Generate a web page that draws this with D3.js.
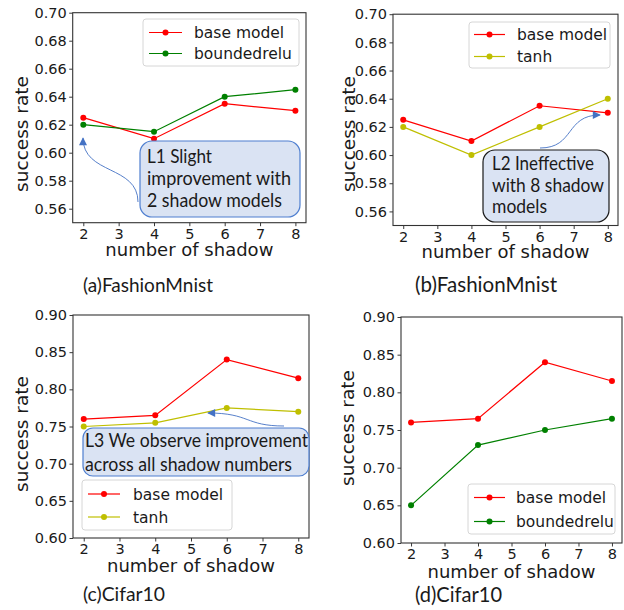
<!DOCTYPE html>
<html><head><meta charset="utf-8">
<script src="https://cdn.jsdelivr.net/npm/d3@7"></script>
<style>
html,body{margin:0;padding:0;background:#fff;}
svg{display:block;}
</style></head>
<body>
<svg id="chart" width="624" height="610"></svg>
<script>
// ---- data ----
const shadowCounts = [2, 4, 6, 8];
const xTicks = [2, 3, 4, 5, 6, 7, 8];
const yTicksFashion = [0.56, 0.58, 0.60, 0.62, 0.64, 0.66, 0.68, 0.70];
const yTicksCifar = [0.60, 0.65, 0.70, 0.75, 0.80, 0.85, 0.90];

const fashionBase = [0.625, 0.61, 0.635, 0.63];
const fashionBoundedRelu = [0.62, 0.615, 0.64, 0.645];
const fashionTanh = [0.62, 0.60, 0.62, 0.64];
const cifarBase = [0.76, 0.765, 0.84, 0.815];
const cifarTanh = [0.75, 0.755, 0.775, 0.77];
const cifarBoundedRelu = [0.65, 0.73, 0.75, 0.765];

const seriesNames = ["base model", "boundedrelu", "tanh"];
const captions = ["(a)FashionMnist", "(b)FashionMnist", "(c)Cifar10", "(d)Cifar10"];
const notes = [
  ["L1 Slight", "improvement with", "2 shadow models"],
  ["L2 Ineffective", "with 8 shadow", "models"],
  ["L3 We observe improvement", "across all shadow numbers"],
];
const xLabel = "number of shadow";
const yLabel = "success rate";

// ---- styles ----
const colors = { "base model": "#ff0000", "boundedrelu": "#008000", "tanh": "#bfbf00" };
const tickFont = "'DejaVu Sans', sans-serif";
const noteFont = "Lato, 'Open Sans', sans-serif";

const svg = d3.select("#chart");

const panels = [
  { rect: [72.7, 12.7, 306, 222.7], ydom: [0.55, 0.70], yticks: yTicksFashion, fmt: ".2f",
    series: [["base model", fashionBase], ["boundedrelu", fashionBoundedRelu]],
    legend: { x: 143, y: 19, w: 156, h: 47, row: 21, lx: 6, lw: 33, tx: 51 },
    ylab: { x: 28, y: 134 }, xlabY: 256, cap: { x: 83, y: 292, size: 20, w: 130, text: captions[0] },
    note: { box: [140, 141, 160, 76], r: 12, stroke: "#4f7fd0", tx: 147, ty: 163, lh: 22, size: 20, lines: notes[0],
            widths: [65, 144, 135],
            arrow: [[138, 202], [138, 165], [83, 175], [83, 138]] } },
  { rect: [393, 14.2, 618, 225.5], ydom: [0.55, 0.70], yticks: yTicksFashion, fmt: ".2f",
    series: [["base model", fashionBase], ["tanh", fashionTanh]],
    legend: { x: 469, y: 22, w: 141, h: 46, row: 22, lx: 5, lw: 31, tx: 48 },
    ylab: { x: 355, y: 134 }, xlabY: 258, cap: { x: 415, y: 292, size: 21, w: 142, text: captions[1] },
    note: { box: [483, 150, 126, 72], r: 12, stroke: "#1a1a1a", tx: 492, ty: 170, lh: 21.5, size: 20, lines: notes[1],
            widths: [102, 112, 55],
            arrow: [[540, 148], [575, 148], [565, 115], [600, 115]] } },
  { rect: [73, 315, 309, 538], ydom: [0.60, 0.90], yticks: yTicksCifar, fmt: ".2f",
    series: [["base model", cifarBase], ["tanh", cifarTanh]],
    legend: { x: 82, y: 480, w: 150, h: 50, row: 23, lx: 6, lw: 32, tx: 51 },
    ylab: { x: 28, y: 434 }, xlabY: 572, cap: { x: 83, y: 601, size: 20, w: 82, text: captions[2] },
    note: { box: [83, 428, 226, 48], r: 10, stroke: "#4f7fd0", tx: 85, ty: 447, lh: 24, size: 19.5, lines: notes[2],
            widths: [223, 207],
            arrow: [[284, 426], [245, 426], [250, 413], [208, 413]] } },
  { rect: [401, 317, 622, 543], ydom: [0.60, 0.90], yticks: yTicksCifar, fmt: ".2f",
    series: [["base model", cifarBase], ["boundedrelu", cifarBoundedRelu]],
    legend: { x: 468, y: 484, w: 147, h: 50, row: 24, lx: 6, lw: 31, tx: 48 },
    ylab: { x: 354, y: 428 }, xlabY: 578, cap: { x: 415, y: 602, size: 20.5, w: 87, text: captions[3] },
    note: null },
];

// arrow marker
const defs = svg.append("defs");
defs.append("marker").attr("id", "ah").attr("viewBox", "0 0 10 10")
  .attr("refX", 9).attr("refY", 5).attr("markerWidth", 9).attr("markerHeight", 8)
  .attr("markerUnits", "userSpaceOnUse").attr("orient", "auto")
  .append("path").attr("d", "M0,0 L10,5 L0,10 z").attr("fill", "#4472c4");

panels.forEach(p => {
  const [L, T, R, B] = p.rect;
  const x = d3.scaleLinear().domain([1.7, 8.3]).range([L, R]);
  const y = d3.scaleLinear().domain(p.ydom).range([B, T]);
  const g = svg.append("g");

  // axes
  const xa = g.append("g").attr("transform", `translate(0,${B})`)
    .call(d3.axisBottom(x).tickValues(xTicks).tickFormat(d3.format("d")).tickSize(3.5).tickPadding(2.5).tickSizeOuter(0));
  const ya = g.append("g").attr("transform", `translate(${L},0)`)
    .call(d3.axisLeft(y).tickValues(p.yticks).tickFormat(d3.format(p.fmt)).tickSize(3.5).tickPadding(2.5).tickSizeOuter(0));
  [xa, ya].forEach(a => {
    a.select(".domain").remove();
    a.selectAll("line").attr("stroke", "#222").attr("stroke-width", 0.9);
    a.selectAll("text").attr("font-family", tickFont).attr("font-size", 14.5).attr("fill", "#1a1a1a");
  });

  // lines
  p.series.forEach(([name, vals]) => {
    const pts = shadowCounts.map((s, i) => [s, vals[i]]);
    g.append("path").datum(pts)
      .attr("d", d3.line().x(d => x(d[0])).y(d => y(d[1])))
      .attr("fill", "none").attr("stroke", colors[name]).attr("stroke-width", 1.2);
    g.selectAll(null).data(pts).enter().append("circle")
      .attr("cx", d => x(d[0])).attr("cy", d => y(d[1])).attr("r", 3)
      .attr("fill", colors[name]);
  });

  // frame
  g.append("rect").attr("x", L).attr("y", T).attr("width", R - L).attr("height", B - T)
    .attr("fill", "none").attr("stroke", "#333").attr("stroke-width", 1.1);

  // legend
  const lg = p.legend;
  const leg = g.append("g").attr("transform", `translate(${lg.x},${lg.y})`);
  leg.append("rect").attr("width", lg.w).attr("height", lg.h).attr("rx", 3)
    .attr("fill", "#fff").attr("fill-opacity", 0.85).attr("stroke", "#d6d6d6").attr("stroke-width", 1);
  p.series.forEach(([name], i) => {
    const ry = lg.h / 2 - lg.row / 2 + i * lg.row + 0.5;
    leg.append("line").attr("x1", lg.lx).attr("x2", lg.lx + lg.lw).attr("y1", ry).attr("y2", ry)
      .attr("stroke", colors[name]).attr("stroke-width", 1.2);
    leg.append("circle").attr("cx", lg.lx + lg.lw / 2).attr("cy", ry).attr("r", 3).attr("fill", colors[name]);
    leg.append("text").attr("x", lg.tx).attr("y", ry).attr("dy", "0.36em")
      .attr("font-family", tickFont).attr("font-size", 15.5).attr("fill", "#1a1a1a").text(name);
  });

  // axis labels
  g.append("text").attr("x", (L + R) / 2).attr("y", p.xlabY).attr("text-anchor", "middle")
    .attr("font-family", tickFont).attr("font-size", 18).attr("fill", "#1a1a1a").text(xLabel);
  g.append("text").attr("transform", `translate(${p.ylab.x},${p.ylab.y}) rotate(-90)`)
    .attr("text-anchor", "middle").attr("font-family", tickFont).attr("font-size", 18.5)
    .attr("fill", "#1a1a1a").text(yLabel);

  // caption
  g.append("text").attr("x", p.cap.x).attr("y", p.cap.y).attr("font-family", noteFont)
    .attr("font-size", p.cap.size).attr("fill", "#1a1a1a")
    .attr("textLength", p.cap.w).attr("lengthAdjust", "spacingAndGlyphs").text(p.cap.text);

  // annotation
  if (p.note) {
    const n = p.note;
    const a = n.arrow;
    g.append("path").attr("d", `M${a[0]} C${a[1]} ${a[2]} ${a[3]}`)
      .attr("fill", "none").attr("stroke", "#4472c4").attr("stroke-width", 0.9)
      .attr("marker-end", "url(#ah)");
    g.append("rect").attr("x", n.box[0]).attr("y", n.box[1]).attr("width", n.box[2]).attr("height", n.box[3])
      .attr("rx", n.r).attr("fill", "#dae3f3").attr("stroke", n.stroke).attr("stroke-width", 1.2);
    n.lines.forEach((t, i) => {
      g.append("text").attr("x", n.tx).attr("y", n.ty + i * n.lh).attr("font-family", noteFont)
        .attr("font-size", n.size).attr("fill", "#1a1a1a")
        .attr("textLength", n.widths[i]).attr("lengthAdjust", "spacingAndGlyphs").text(t);
    });
  }
});
</script>
</body></html>
